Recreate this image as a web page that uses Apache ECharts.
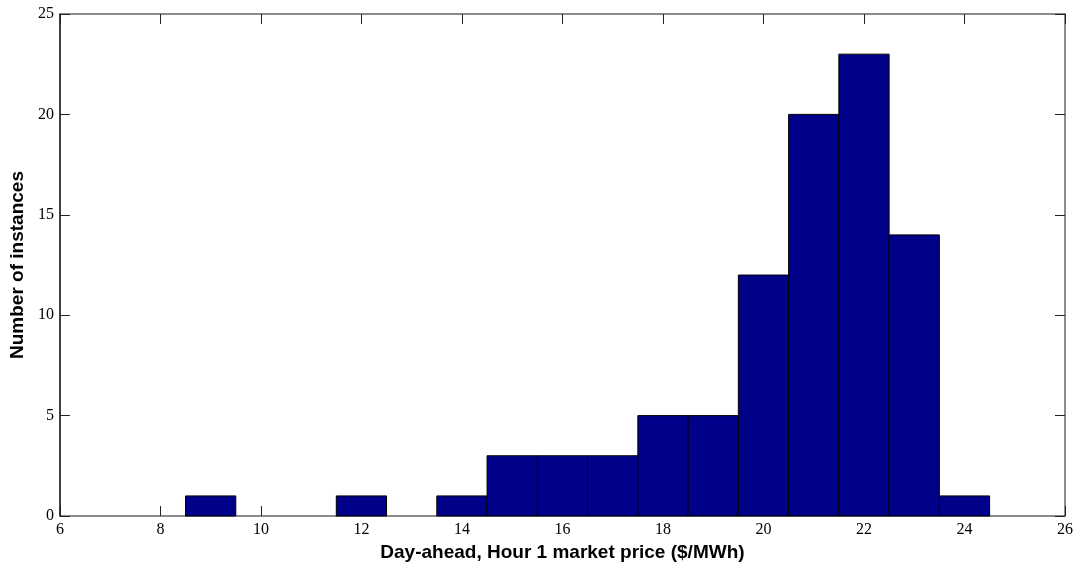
<!DOCTYPE html>
<html><head><meta charset="utf-8">
<script src="https://cdn.jsdelivr.net/npm/echarts@6/dist/echarts.min.js"></script>
<style>html,body{margin:0;padding:0;background:#fff}#c{width:1076px;height:567px}</style>
</head><body><div id="c"></div>
<script>
const binCenters = [9, 12, 14, 15, 16, 17, 18, 19, 20, 21, 22, 23, 24];
const counts = [1, 1, 1, 3, 3, 3, 5, 5, 12, 20, 23, 14, 1];
const binWidth = 1;
const xTicks = [6, 8, 10, 12, 14, 16, 18, 20, 22, 24, 26];
const yTicks = [0, 5, 10, 15, 20, 25];

const data = binCenters.map((c, i) => [c, counts[i]]);
const chart = echarts.init(document.getElementById('c'));
const tickFont = {fontFamily: 'Liberation Serif', fontSize: 16, color: '#000'};
const titleFont = {fontFamily: 'Liberation Sans', fontSize: 19, fontWeight: 'bold', color: '#000'};
chart.setOption({
  animation: false,
  grid: {left: 59, right: 10, top: 14, bottom: 51},
  xAxis: [{
    type: 'value', min: xTicks[0], max: xTicks[xTicks.length - 1], interval: 2, position: 'bottom',
    axisLine: {onZero: false, lineStyle: {color: '#666', width: 1.5}},
    axisTick: {inside: true, length: 10, lineStyle: {color: '#222'}},
    axisLabel: Object.assign({margin: 6}, tickFont),
    splitLine: {show: false},
    name: 'Day-ahead, Hour 1 market price ($/MWh)', nameLocation: 'middle', nameGap: 26,
    nameTextStyle: titleFont
  }, {
    type: 'value', min: xTicks[0], max: xTicks[xTicks.length - 1], interval: 2, position: 'top',
    axisLine: {show: true, onZero: false, lineStyle: {color: '#666', width: 1.5}},
    axisTick: {show: true, inside: true, length: 10, lineStyle: {color: '#222'}},
    axisLabel: {show: false}, splitLine: {show: false}
  }],
  yAxis: [{
    type: 'value', min: yTicks[0], max: yTicks[yTicks.length - 1], interval: 5, position: 'left',
    axisLine: {show: true, onZero: false, lineStyle: {color: '#000', width: 1.5}},
    axisTick: {show: true, inside: true, length: 10, lineStyle: {color: '#222'}},
    axisLabel: Object.assign({margin: 6}, tickFont),
    splitLine: {show: false},
    name: 'Number of instances', nameLocation: 'middle', nameGap: 31, nameRotate: 90,
    nameTextStyle: titleFont
  }, {
    type: 'value', min: yTicks[0], max: yTicks[yTicks.length - 1], interval: 5, position: 'right',
    axisLine: {show: true, onZero: false, lineStyle: {color: '#666', width: 1.5}},
    axisTick: {show: true, inside: true, length: 10, lineStyle: {color: '#222'}},
    axisLabel: {show: false}, splitLine: {show: false}
  }],
  series: [{
    type: 'custom',
    xAxisIndex: 0, yAxisIndex: 0,
    data: data,
    renderItem: function (params, api) {
      const x = api.value(0), y = api.value(1);
      const p0 = api.coord([x - binWidth / 2, y]);
      const p1 = api.coord([x + binWidth / 2, 0]);
      return {
        type: 'rect',
        shape: {x: p0[0], y: p0[1], width: p1[0] - p0[0], height: p1[1] - p0[1]},
        style: {fill: '#000088', stroke: '#000', lineWidth: 1}
      };
    }
  }]
});
</script></body></html>
